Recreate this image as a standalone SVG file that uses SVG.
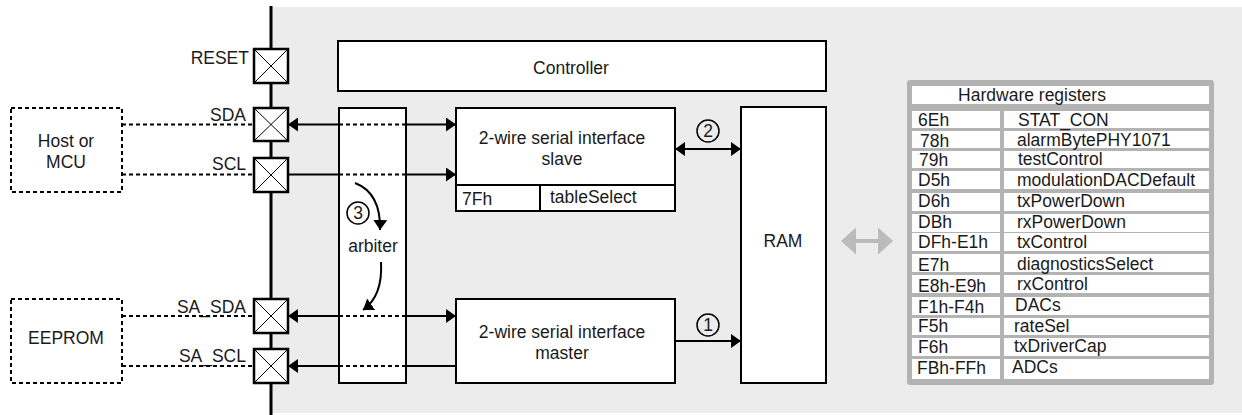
<svg xmlns="http://www.w3.org/2000/svg" width="1242" height="415" viewBox="0 0 1242 415">
<defs>
<style>
text{font-family:"Liberation Sans",Arial,sans-serif;font-size:17.5px;fill:#1a1a1a}
.box{fill:#fff;stroke:#000;stroke-width:2}
.dot{fill:#fff;stroke:#000;stroke-width:2;stroke-dasharray:4 3}
.pad{fill:#fff;stroke:#000;stroke-width:2.5}
.x{stroke:#000;stroke-width:1;fill:none}
.w{stroke:#000;stroke-width:2;fill:none}
.d{stroke:#000;stroke-width:2;fill:none;stroke-dasharray:4 3}
.cell{fill:#fff}
.c{text-anchor:middle}
.e{text-anchor:end}
.circ{fill:none;stroke:#000;stroke-width:1.5}
</style>
<marker id="ah" viewBox="0 0 10 14" refX="10" refY="7" markerWidth="10" markerHeight="14" markerUnits="userSpaceOnUse" orient="auto"><path d="M0,0 L10,7 L0,14 z" fill="#000"/></marker>
</defs>
<rect x="272" y="7" width="970" height="406" fill="#ececec"/>
<line x1="271" y1="6" x2="271" y2="415" stroke="#000" stroke-width="3"/>

<g id="host"><rect class="dot" x="11" y="108" width="111" height="84"/><text class="c" x="66" y="147">Host or</text><text class="c" x="66" y="168">MCU</text></g>
<g id="eeprom"><rect class="dot" x="11" y="299" width="111" height="84"/><text class="c" x="66" y="344">EEPROM</text></g>

<g id="pad-reset"><rect class="pad" x="254" y="49" width="34" height="34"/><path class="x" d="M254,49 L288,83 M288,49 L254,83"/><text class="e" x="249" y="64">RESET</text></g>
<g id="pad-sda"><rect class="pad" x="254" y="108" width="34" height="33"/><path class="x" d="M254,108 L288,141 M288,108 L254,141"/><text class="e" x="246" y="121">SDA</text></g>
<g id="pad-scl"><rect class="pad" x="254" y="158" width="34" height="34"/><path class="x" d="M254,158 L288,192 M288,158 L254,192"/><text class="e" x="246" y="170">SCL</text></g>
<g id="pad-sa-sda"><rect class="pad" x="254" y="299" width="34" height="34"/><path class="x" d="M254,299 L288,333 M288,299 L254,333"/><text class="e" x="246" y="313">SA_SDA</text></g>
<g id="pad-sa-scl"><rect class="pad" x="254" y="349" width="34" height="34"/><path class="x" d="M254,349 L288,383 M288,349 L254,383"/><text class="e" x="246" y="362">SA_SCL</text></g>

<g id="controller"><rect class="box" x="338" y="41" width="488" height="50"/><text class="c" x="571" y="74">Controller</text></g>
<g id="arbiter"><rect class="box" x="339" y="108" width="67" height="275"/><text class="c" x="373" y="252">arbiter</text></g>
<g id="slave"><rect class="box" x="456" y="108" width="219" height="103"/><line class="w" x1="456" y1="185" x2="675" y2="185"/><line class="w" x1="540" y1="185" x2="540" y2="211"/><text class="c" x="562" y="144">2-wire serial interface</text><text class="c" x="562" y="165">slave</text><text x="462" y="205">7Fh</text><text x="550" y="203">tableSelect</text></g>
<g id="master"><rect class="box" x="456" y="299" width="219" height="84"/><text class="c" x="562" y="338">2-wire serial interface</text><text class="c" x="562" y="359">master</text></g>
<g id="ram"><rect class="box" x="741" y="107" width="85" height="276"/><text class="c" x="783" y="247">RAM</text></g>

<g id="registers">
<rect x="907" y="80" width="307" height="305" rx="3" fill="#b3b3b3"/>
<rect class="cell" x="912" y="86" width="297" height="18"/>
<text class="c" x="1032" y="101">Hardware registers</text>
<g class="rows">
<rect class="cell" x="912" y="111" width="88" height="17"/><rect class="cell" x="1004" y="111" width="205" height="17"/>
<rect class="cell" x="912" y="131" width="88" height="17"/><rect class="cell" x="1004" y="131" width="205" height="17"/>
<rect class="cell" x="912" y="151" width="88" height="17"/><rect class="cell" x="1004" y="151" width="205" height="17"/>
<rect class="cell" x="912" y="171" width="88" height="18"/><rect class="cell" x="1004" y="171" width="205" height="18"/>
<rect class="cell" x="912" y="193" width="88" height="18"/><rect class="cell" x="1004" y="193" width="205" height="18"/>
<rect class="cell" x="912" y="214" width="88" height="18"/><rect class="cell" x="1004" y="214" width="205" height="18"/>
<rect class="cell" x="912" y="233" width="88" height="18"/><rect class="cell" x="1004" y="233" width="205" height="18"/>
<rect class="cell" x="912" y="254" width="88" height="18"/><rect class="cell" x="1004" y="254" width="205" height="18"/>
<rect class="cell" x="912" y="275" width="88" height="18"/><rect class="cell" x="1004" y="275" width="205" height="18"/>
<rect class="cell" x="912" y="297" width="88" height="18"/><rect class="cell" x="1004" y="297" width="205" height="18"/>
<rect class="cell" x="912" y="318" width="88" height="17"/><rect class="cell" x="1004" y="318" width="205" height="17"/>
<rect class="cell" x="912" y="338" width="88" height="18"/><rect class="cell" x="1004" y="338" width="205" height="18"/>
<rect class="cell" x="912" y="359" width="88" height="20"/><rect class="cell" x="1004" y="359" width="205" height="20"/>
</g>
<text x="918" y="126">6Eh</text><text x="1018" y="126">STAT_CON</text>
<text x="920" y="147">78h</text><text x="1017" y="146">alarmBytePHY1071</text>
<text x="919" y="166">79h</text><text x="1018" y="165">testControl</text>
<text x="918" y="186">D5h</text><text x="1017" y="186">modulationDACDefault</text>
<text x="918" y="207">D6h</text><text x="1017" y="207">txPowerDown</text>
<text x="918" y="228">DBh</text><text x="1017" y="228">rxPowerDown</text>
<text x="918" y="248">DFh-E1h</text><text x="1017" y="248">txControl</text>
<text x="918" y="271">E7h</text><text x="1017" y="270">diagnosticsSelect</text>
<text x="918" y="292">E8h-E9h</text><text x="1017" y="290">rxControl</text>
<text x="918" y="313">F1h-F4h</text><text x="1015" y="311">DACs</text>
<text x="918" y="332">F5h</text><text x="1014" y="332">rateSel</text>
<text x="918" y="353">F6h</text><text x="1014" y="352">txDriverCap</text>
<text x="917" y="374">FBh-FFh</text><text x="1012" y="373">ADCs</text>
</g>

<g id="connectors">
<path class="d" d="M122,124.5 H254 M122,174.5 H254 M122,316 H254 M122,366 H254"/>
<path class="w" d="M339,124.5 H288" marker-end="url(#ah)"/>
<path class="w" d="M406,124.5 H456" marker-end="url(#ah)"/>
<path class="d" d="M339,124.5 H406"/>
<path class="w" d="M288,174.5 H339"/>
<path class="w" d="M406,174.5 H456" marker-end="url(#ah)"/>
<path class="d" d="M339,174.5 H406"/>
<path class="w" d="M339,316 H288" marker-end="url(#ah)"/>
<path class="w" d="M406,316 H456" marker-end="url(#ah)"/>
<path class="d" d="M339,316 H406"/>
<path class="w" d="M339,366 H288" marker-end="url(#ah)"/>
<path class="w" d="M456,366 H406"/>
<path class="d" d="M339,366 H406"/>
<path class="w" d="M708,149 H741" marker-end="url(#ah)"/>
<path class="w" d="M708,149 H675" marker-end="url(#ah)"/>
<path class="w" d="M675,341 H741" marker-end="url(#ah)"/>
<path class="w" d="M355,183 Q381,193 380,230" marker-end="url(#ah)"/>
<path class="w" d="M381,262 Q383,296 363,310" marker-end="url(#ah)"/>
<polygon points="841,241 856,227.5 856,239 878,239 878,227.5 893,241 878,254.5 878,243 856,243 856,254.5" fill="#bbbbbb"/>
<circle class="circ" cx="708" cy="131" r="11"/><text class="c" x="708" y="137">2</text>
<circle class="circ" cx="708" cy="325" r="11"/><text class="c" x="708" y="331">1</text>
<circle class="circ" cx="358" cy="213" r="11"/><text class="c" x="358" y="219">3</text>
</g>
</svg>
